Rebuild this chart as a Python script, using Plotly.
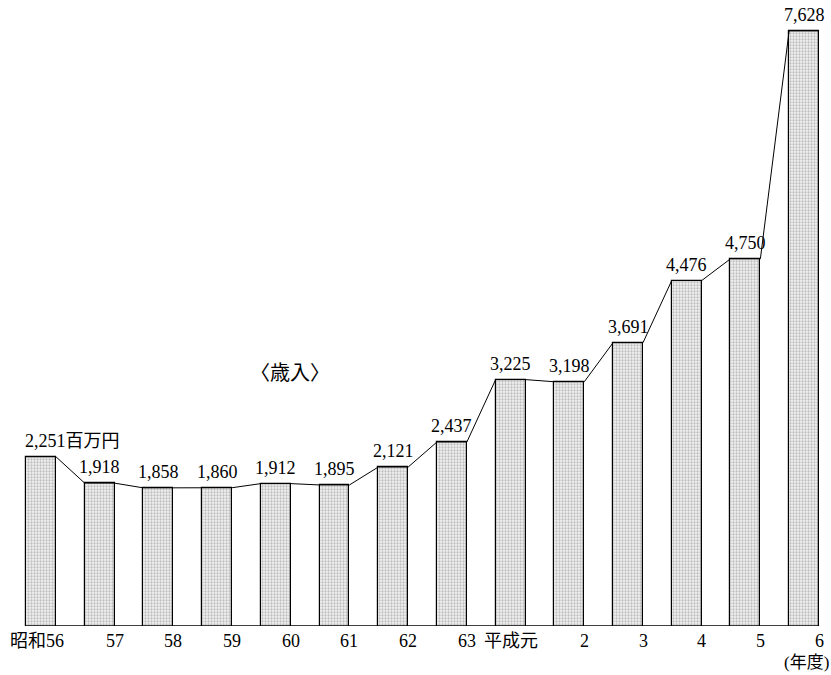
import plotly.graph_objects as go

years = ["昭和56", "57", "58", "59", "60", "61", "62", "63", "平成元", "2", "3", "4", "5", "6"]
revenue = [2251, 1918, 1858, 1860, 1912, 1895, 2121, 2437, 3225, 3198, 3691, 4476, 4750, 7628]
value_labels = ["2,251百万円", "1,918", "1,858", "1,860", "1,912", "1,895", "2,121", "2,437",
                "3,225", "3,198", "3,691", "4,476", "4,750", "7,628"]

W = 0.51
SERIF = "Liberation Serif, Noto Sans CJK JP, serif"
xs = list(range(len(years)))

fig = go.Figure()
fig.add_trace(go.Bar(
    x=xs, y=revenue, width=W,
    marker=dict(color="white", line=dict(color="black", width=1.2),
                pattern=dict(shape=".", size=3, solidity=0.45, fgcolor="#8a8a8a", bgcolor="#f2f2f2")),
    hoverinfo="skip", showlegend=False,
))

# connecting line along bar tops
lx, ly = [], []
for i, v in enumerate(revenue):
    lx += [i - W / 2, i + W / 2]
    ly += [v, v]
fig.add_trace(go.Scatter(x=lx, y=ly, mode="lines", line=dict(color="black", width=1),
                         hoverinfo="skip", showlegend=False))

Y0 = 114
fig.add_shape(type="line", x0=-W / 2, x1=len(years) - 1 + W / 2, y0=Y0, y1=Y0,
              line=dict(color="black", width=1.5))

for i, (v, t) in enumerate(zip(revenue, value_labels)):
    if i == 0:
        fig.add_annotation(x=i - W / 2, y=v, text=t, showarrow=False, xanchor="left",
                           yanchor="bottom", yshift=4, xshift=-3,
                           font=dict(family=SERIF, size=18, color="black"))
    else:
        fig.add_annotation(x=i, y=v, text=t, showarrow=False, xanchor="center",
                           yanchor="bottom", yshift=4,
                           font=dict(family=SERIF, size=18, color="black"))

for i, t in enumerate(years):
    cjk = any(ord(c) > 0x2E80 for c in t)
    fig.add_annotation(x=i, y=0, yref="paper", text=t, showarrow=False,
                       xanchor="center", yanchor="top", yshift=-3,
                       xshift=(0 if cjk else 15) - (4 if i == 0 else 0),
                       font=dict(family=SERIF, size=18, color="black"))

fig.add_annotation(x=1, xref="paper", y=0, yref="paper", text="(年度)", showarrow=False,
                   xanchor="right", yanchor="top", yshift=-25,
                   font=dict(family=SERIF, size=17, color="black"))
fig.add_annotation(x=4.24, y=3310, text="〈歳入〉", showarrow=False,
                   xanchor="center", yanchor="middle",
                   font=dict(family=SERIF, size=20, color="black"))

fig.update_layout(
    width=831, height=675,
    margin=dict(l=0, r=0, t=20, b=49),
    paper_bgcolor="white", plot_bgcolor="white",
    xaxis=dict(range=[-0.698, 13.458], visible=False),
    yaxis=dict(range=[Y0, 7766], visible=False),
    bargap=0,
)
fig.write_html("out.html")
